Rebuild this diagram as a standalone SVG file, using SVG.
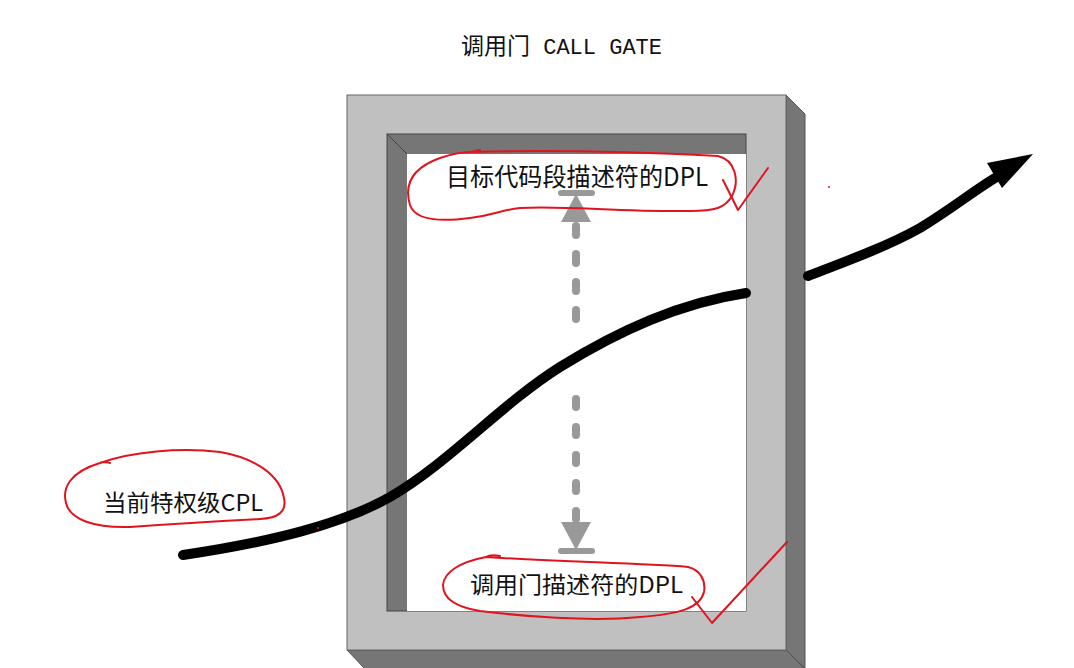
<svg xmlns="http://www.w3.org/2000/svg" width="1074" height="668" viewBox="0 0 1074 668">
<style>
.lbl{font-family:"Noto Sans CJK SC","Liberation Sans",sans-serif;fill:#111;}
.red{fill:none;stroke:#e0141e;stroke-width:2;stroke-linecap:round;stroke-linejoin:round;}
.thick{fill:none;stroke:#000;stroke-width:10;stroke-linecap:round;}
.dash{stroke:#999;stroke-width:8;stroke-linecap:round;fill:none;}
</style>
<rect x="0" y="0" width="1074" height="668" fill="#fff"/>
<g id="title">
<text class="lbl" x="461" y="54" font-size="23"><tspan>调用门</tspan><tspan font-family="'Liberation Mono','Noto Sans CJK SC',monospace" font-size="22"> CALL GATE</tspan></text>
</g>
<g id="gate">
<polygon points="786,95 805,114 805,668 786,650" fill="#767676" stroke="#555" stroke-width="1"/>
<polygon points="347,650 786,650 805,669 365,669" fill="#767676" stroke="#555" stroke-width="1"/>
<rect x="347" y="95" width="439" height="555" fill="#c0c0c0" stroke="#666" stroke-width="1"/>
<rect x="387" y="134" width="359" height="477" fill="#767676" stroke="#444" stroke-width="1"/>
<rect x="407" y="154" width="339" height="457" fill="#fff"/>
<line x1="387" y1="134" x2="407" y2="154" stroke="#444" stroke-width="1"/>
</g>
<g id="connectors">
<g id="dpl-compare">
<rect x="558" y="190" width="37" height="6" rx="3" fill="#999"/>
<polygon points="576,194 561,222 591,222" fill="#999"/>
<line class="dash" x1="576" y1="226" x2="576" y2="320" stroke-dasharray="9 19"/>
<line class="dash" x1="576" y1="399" x2="576" y2="522" stroke-dasharray="8 20"/>
<polygon points="576,550 561,522 591,522" fill="#999"/>
<rect x="558" y="548" width="37" height="6" rx="3" fill="#999"/>
</g>
<g id="cpl-path">
<path class="thick" d="M183,555 C270,542 340,525 390,497 C450,462 500,405 560,367 C620,330 680,303 746,293"/>
<path class="thick" d="M808,276 C850,260 890,245 920,228 C950,210 972,192 995,178"/>
<polygon points="1033,154 987,163 1002,188" fill="#000"/>
</g>
</g>
<g id="label-target-dpl">
<text class="lbl" x="446" y="186" font-size="25" textLength="262" lengthAdjust="spacingAndGlyphs">目标代码段描述符的DPL</text>
<path class="red" d="M480,150 C470,152 465,153 470,152 C540,150 640,152 718,156 C735,160 740,180 732,196 C725,208 715,211 690,211 C620,212 560,205 520,208 C500,210 495,215 470,218 C440,222 415,220 410,205 C404,185 412,168 440,158 C455,153 465,152 470,152"/>
<path class="red" d="M723,180 L738,210 L768,168"/>
<circle cx="829" cy="187" r="1" fill="#e0141e"/>
</g>
<g id="label-gate-dpl">
<text class="lbl" x="470" y="593" font-size="23" textLength="213" lengthAdjust="spacingAndGlyphs">调用门描述符的DPL</text>
<path class="red" d="M500,556 C495,555 489,555 486,557 C560,562 640,563 688,567 C700,570 706,580 704,592 C700,608 680,614 640,617 C590,622 520,616 480,611 C455,607 443,598 443,585 C444,572 460,562 486,557"/>
<path class="red" d="M692,597 L712,623 L787,542"/>
</g>
<g id="label-cpl">
<text class="lbl" x="103" y="511" font-size="23" textLength="160" lengthAdjust="spacingAndGlyphs">当前特权级CPL</text>
<path class="red" d="M110,463 C105,462 102,461 100,463 C130,452 180,447 220,452 C255,458 280,475 284,498 C287,512 278,518 260,519 C220,521 170,524 130,527 C95,528 70,520 66,503 C62,488 70,472 100,463"/>
<circle cx="318" cy="528" r="1" fill="#e0141e"/>
</g>
</svg>
